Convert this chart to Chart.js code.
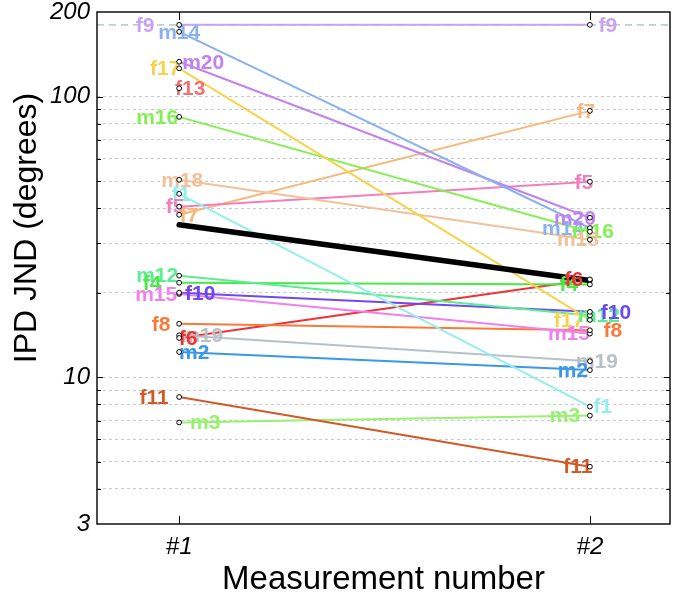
<!DOCTYPE html>
<html><head><meta charset="utf-8">
<script src="https://cdn.jsdelivr.net/npm/chart.js@4.4.1/dist/chart.umd.min.js"></script>
<style>html,body{margin:0;padding:0;background:#fff}#wrap{width:675px;height:604px}</style>
</head><body><div id="wrap"><canvas id="c" width="675" height="604"></canvas></div>
<script>
// ---- data ----
const measurements = ['#1', '#2'];
const subjects = ['f9','m14','m20','f17','f13','m16','m18','f1','f5','f7','m12','f4','m15','f10','f8','m19','f6','m2','f11','m3'];
const jnd1 = [180, 170, 133, 126, 107, 84.6, 50.5, 45, 40.5, 37.9, 23, 21.7, 19.8, 20, 15.5, 14.1, 13.8, 12.3, 8.5, 6.9];
const jnd2 = [180, 34, 37, 16, null, 33, 30.9, 7.86, 49.7, 88.9, 16.6, 21.4, 14.3, 17.1, 14.7, 11.4, 22.3, 10.6, 4.8, 7.3];
const meanJnd = [34.9, 22.1];
const ceilingJnd = 180;
const yTickValues = [3,4,5,6,7,8,9,10,20,30,40,50,60,70,80,90,100,200];
const yTickLabels = ['3','10','100','200'];
const yTitle = 'IPD JND (degrees)';
const xTitle = 'Measurement number';

// ---- styles ----
const colors = ['#c9a3f2','#8ab2f0','#c283f0','#f8d24a','#f07272','#84f052','#f0c29a','#94eeee','#f27fbc','#f8b87a','#58ee92','#48ea48','#f080ee','#6e48f0','#f87a38','#b8c0c8','#f03232','#3a98e6','#d05a28','#9af070'];
const labelDx1 = [-34, 0, 24, -14, 11, -22, 3, 2, -4, 10, -22, -27, -23, 21, -18, 23, 9, 15, -25, 26];
const labelDx2 = [18, -27, -15, -21, 0, 3, -12, 13, -6, -4, 9, -21, -21, 26, 23, 7, -16, -17, -12, -25];
const FONT = '"Liberation Sans", Arial, Helvetica, sans-serif';

const datasets = [];
const markerData = [];
subjects.forEach((s, i) => {
  if (jnd1[i] != null) markerData.push({x: 1, y: jnd1[i]});
  if (jnd2[i] != null) markerData.push({x: 2, y: jnd2[i]});
});
datasets.push({label: 'points', role: 'markers', data: markerData, showLine: false, pointRadius: 2.4,
  pointBorderWidth: 1, pointBorderColor: '#000', pointBackgroundColor: '#fff', order: 0});
datasets.push({label: 'mean', role: 'mean', data: meanJnd.map((v, j) => ({x: j + 1, y: v})),
  borderColor: '#000', borderWidth: 5.5, borderCapStyle: 'round', pointRadius: 0, order: 1});
subjects.forEach((s, i) => {
  datasets.push({label: s, role: 'subject', data: [{x: 1, y: jnd1[i]}, {x: 2, y: jnd2[i]}],
    borderColor: colors[i], borderWidth: 2, pointRadius: 0, spanGaps: false, order: 2});
});

const decor = {
  id: 'decor',
  beforeDatasetsDraw(chart) {
    const {ctx, chartArea: a, scales: {y}} = chart;
    const yy = y.getPixelForValue(ceilingJnd);
    ctx.save();
    ctx.strokeStyle = '#bfd0cc'; ctx.lineWidth = 1.6; ctx.setLineDash([7, 5]);
    ctx.beginPath(); ctx.moveTo(a.left, yy); ctx.lineTo(a.right, yy); ctx.stroke();
    ctx.restore();
  },
  afterDatasetDraw(chart, args) {
    const ds = chart.data.datasets[args.index];
    if (ds.role !== 'mean') return;
    const {ctx, scales: {x, y}} = chart;
    ctx.save();
    ctx.font = 'bold 21px ' + FONT;
    ctx.textAlign = 'center'; ctx.textBaseline = 'middle';
    subjects.forEach((s, i) => {
      [[jnd1[i], labelDx1[i]], [jnd2[i], labelDx2[i]]].forEach(([v, dx], j) => {
        if (v == null) return;
        ctx.fillStyle = colors[i];
        ctx.fillText(s, x.getPixelForValue(j + 1) + dx, y.getPixelForValue(v) + 1);
      });
    });
    ctx.restore();
  },
  afterDraw(chart) {
    const {ctx, chartArea: a, scales: {x, y}} = chart;
    ctx.save();
    ctx.strokeStyle = '#000'; ctx.lineWidth = 1;
    ctx.beginPath();
    yTickValues.forEach(v => {
      if (v === 3 || v === 200) return;
      const yy = Math.round(y.getPixelForValue(v)) + 0.5;
      const len = yTickLabels.includes(String(v)) ? 6 : 4;
      ctx.moveTo(a.left, yy); ctx.lineTo(a.left + len, yy);
      ctx.moveTo(a.right, yy); ctx.lineTo(a.right - len, yy);
    });
    measurements.forEach((m, j) => {
      const xx = Math.round(x.getPixelForValue(j + 1)) + 0.5;
      ctx.moveTo(xx, a.top); ctx.lineTo(xx, a.top + 8);
      ctx.moveTo(xx, a.bottom); ctx.lineTo(xx, a.bottom - 8);
    });
    ctx.stroke();
    ctx.lineWidth = 1.4;
    ctx.strokeRect(a.left, a.top, a.right - a.left, a.bottom - a.top);
    // y axis title
    ctx.fillStyle = '#000';
    ctx.font = '32px ' + FONT;
    ctx.textAlign = 'center'; ctx.textBaseline = 'middle';
    ctx.translate(27, 228);
    ctx.rotate(-Math.PI / 2);
    ctx.fillText(yTitle, 0, 0);
    ctx.restore();
  }
};

new Chart(document.getElementById('c'), {
  type: 'line',
  data: {datasets},
  plugins: [decor],
  options: {
    responsive: false, animation: false, devicePixelRatio: 1,
    layout: {padding: {top: 12, right: 2, left: 0, bottom: 0}},
    plugins: {legend: {display: false}, tooltip: {enabled: false}},
    scales: {
      x: {
        type: 'linear', min: 0.8, max: 2.195,
        afterBuildTicks: s => { s.ticks = measurements.map((m, j) => ({value: j + 1})); },
        ticks: {autoSkip: false, maxRotation: 0, padding: 1, color: '#000',
          font: {family: FONT, size: 24, style: 'italic'},
          callback: v => measurements[Math.round(v) - 1] || ''},
        grid: {display: false},
        border: {display: false},
        title: {display: true, text: xTitle, color: '#000',
          font: {family: FONT, size: 33}, padding: {top: 0, bottom: 4}},
        afterFit: s => { s.height = 80; s.paddingLeft = 0; s.paddingRight = 0; }
      },
      y: {
        type: 'logarithmic', min: 3, max: 200,
        afterBuildTicks: s => { s.ticks = yTickValues.map(v => ({value: v})); },
        ticks: {autoSkip: false, padding: 7, color: '#000',
          font: {family: FONT, size: 24, style: 'italic'},
          callback: v => yTickLabels.includes(String(v)) ? String(v) : ''},
        grid: {drawTicks: false, lineWidth: 1,
          color: c => (c.tick && (c.tick.value === 3 || c.tick.value === 200)) ? 'rgba(0,0,0,0)' : '#c2cacf'},
        border: {display: false, dash: [3, 3]},
        title: {display: false},
        afterFit: s => { s.width = 97; s.paddingTop = 0; s.paddingBottom = 0; }
      }
    }
  }
});
</script></body></html>
